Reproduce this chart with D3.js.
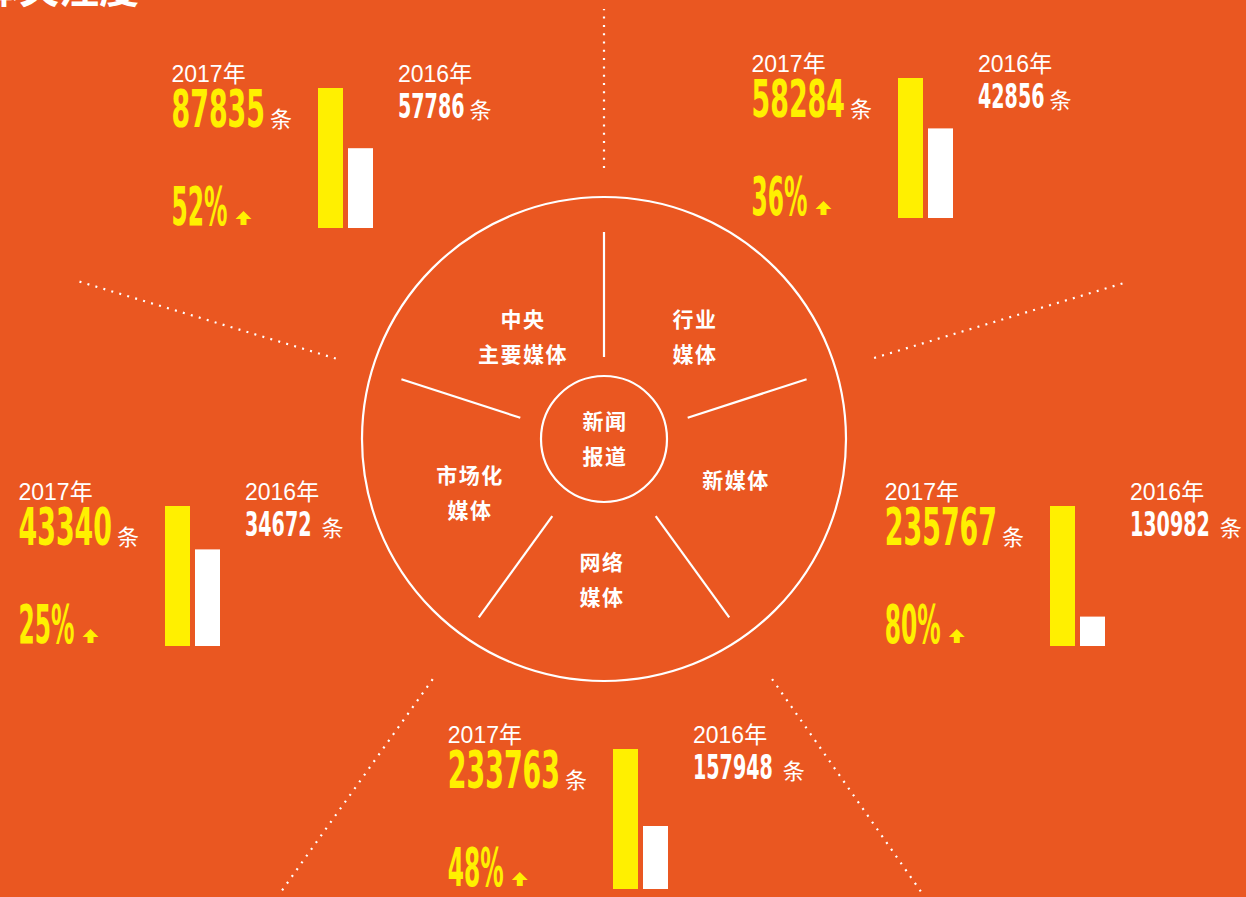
<!DOCTYPE html>
<html>
<head>
<meta charset="utf-8">
<script src="https://cdn.jsdelivr.net/npm/d3@7"></script>
<style>
  html, body { margin: 0; padding: 0; background: #ea5721; }
  svg { display: block; }
</style>
</head>
<body>
<svg id="chart" width="1246" height="897"></svg>
<script>
// ---- data ----------------------------------------------------------------
var groupNames   = ['行业媒体', '新媒体', '网络媒体', '市场化媒体', '中央主要媒体'];
var groupLines   = [['行业', '媒体'], ['新媒体'], ['网络', '媒体'], ['市场化', '媒体'], ['中央', '主要媒体']];
var count2017    = [58284, 235767, 233763, 43340, 87835];
var count2016    = [42856, 130982, 157948, 34672, 57786];
var growthLabels = ['36%', '80%', '48%', '25%', '52%'];
// white bar height as drawn, relative to the 2017 bar (the bars are not to scale)
var bar2016Share = [0.64, 0.21, 0.45, 0.69, 0.57];
var yearLabels   = ['2017年', '2016年'];
var unitLabel    = '条';
var centerLines  = ['新闻', '报道'];
var titleText    = '媒体关注度';

// ---- layout ---------------------------------------------------------------
var svg = d3.select('#chart');
var W = +svg.attr('width'), H = +svg.attr('height');
var cx = 604, cy = 439;
var orange = '#ea5721', yellow = '#fff000', white = '#ffffff';

// bar anchor (left of yellow bar, bottom) for each group
var anchors = [[898, 218], [1050, 646], [613, 889], [165, 646], [318, 228]];
var gap16 = [5, 10, 10, 10, 5];
// centre of each segment label inside the wheel
var labelPos = [[694, 337], [735, 481], [601, 580], [469, 493], [522, 337]];
// dotted rays: angle, inner and outer radius
var dotAngle = [-90, -16.7, 55, 125.5, 196.7];
var dotInner = [271, 282, 293, 295, 280];
var dotOuter = [430, 545, 556, 557, 551];

var numFont = '"Liberation Sans Narrow", "DejaVu Sans Condensed", "Roboto Condensed", sans-serif';
var txtFont = '"Liberation Sans", "Noto Sans CJK SC", sans-serif';
var cjkFont = '"Noto Sans CJK SC", "Noto Sans", sans-serif';

svg.append('rect').attr('width', W).attr('height', H).attr('fill', orange);

// title, cut off by the top edge
svg.append('text')
    .attr('x', 139).attr('y', 3)
    .attr('text-anchor', 'end')
    .attr('font-family', cjkFont).attr('font-weight', 700)
    .attr('font-size', 40).attr('fill', white)
    .text(titleText);

// angles: spokes at pentagon corners
var spokeAngle = d3.scaleLinear().domain([0, 5]).range([-90, 270]);
function polar(angleDeg, r, ox, oy) {
    var a = angleDeg * Math.PI / 180;
    return [ox + r * Math.cos(a), oy + r * Math.sin(a)];
}

// dotted radial lines
svg.append('g').selectAll('line')
    .data(d3.range(5))
    .enter().append('line')
    .each(function(i) {
        var p0 = polar(dotAngle[i], dotInner[i], cx, cy), p1 = polar(dotAngle[i], dotOuter[i], cx, cy);
        d3.select(this).attr('x1', p0[0]).attr('y1', p0[1]).attr('x2', p1[0]).attr('y2', p1[1]);
    })
    .attr('stroke', white)
    .attr('stroke-width', 2.2)
    .attr('stroke-dasharray', '2 6.3');

// central wheel
var wheel = svg.append('g');
wheel.append('circle').attr('cx', cx).attr('cy', cy).attr('r', 242)
    .attr('fill', 'none').attr('stroke', white).attr('stroke-width', 2.2);
wheel.append('circle').attr('cx', cx).attr('cy', cy).attr('r', 63)
    .attr('fill', 'none').attr('stroke', white).attr('stroke-width', 2.2);

wheel.selectAll('.spoke')
    .data(d3.range(5))
    .enter().append('line')
    .attr('class', 'spoke')
    .each(function(i) {
        var p0 = polar(spokeAngle(i), 88, cx, cy + 6), p1 = polar(spokeAngle(i), 213, cx, cy + 6);
        d3.select(this).attr('x1', p0[0]).attr('y1', p0[1]).attr('x2', p1[0]).attr('y2', p1[1]);
    })
    .attr('stroke', white).attr('stroke-width', 2.2);

// segment labels
wheel.selectAll('.seg-label')
    .data(groupLines)
    .enter().append('text')
    .attr('class', 'seg-label')
    .attr('font-family', cjkFont).attr('font-weight', 700)
    .attr('font-size', 21).attr('letter-spacing', 1.5)
    .attr('fill', white).attr('text-anchor', 'middle')
    .each(function(lines, i) {
        var p = labelPos[i];
        var t = d3.select(this);
        lines.forEach(function(l, k) {
            t.append('tspan')
                .attr('x', p[0] + 1)
                .attr('y', p[1] + 7 + (k - (lines.length - 1) / 2) * 35)
                .text(l);
        });
    });

// center label
centerLines.forEach(function(l, k) {
    wheel.append('text')
        .attr('x', cx + 1).attr('y', cy - 10 + k * 35)
        .attr('font-family', cjkFont).attr('font-weight', 700)
        .attr('font-size', 21).attr('letter-spacing', 1.5)
        .attr('fill', white).attr('text-anchor', 'middle')
        .text(l);
});

// ---- the five bar groups --------------------------------------------------
var barH = d3.scaleLinear().domain([0, 1]).range([0, 140]);
var barW = 25;
var digit17 = 18.7, digit16 = 13.3, pctW = 56, unitW = 22;

groupNames.forEach(function(name, i) {
    var bx = anchors[i][0], by = anchors[i][1];
    var g = svg.append('g').attr('class', 'group').attr('data-name', name);

    // bars
    var bars = [{v: 1, c: yellow, x: bx}, {v: bar2016Share[i], c: white, x: bx + 30}];
    g.selectAll('rect')
        .data(bars)
        .enter().append('rect')
        .attr('x', function(d) { return d.x; })
        .attr('y', function(d) { return by - barH(d.v); })
        .attr('width', barW)
        .attr('height', function(d) { return barH(d.v); })
        .attr('fill', function(d) { return d.c; });

    // 2017 block, right-aligned next to the bars
    var s17 = String(count2017[i]);
    var w17 = s17.length * digit17;
    var left17 = bx - 26 - unitW - 5 - w17;

    g.append('text')
        .attr('x', left17).attr('y', by - 146)
        .attr('font-family', txtFont).attr('font-size', 23)
        .attr('fill', white)
        .text(yearLabels[0]);

    g.append('text')
        .attr('x', left17).attr('y', by - 101)
        .attr('font-family', numFont).attr('font-weight', 700)
        .attr('font-size', 51).attr('fill', yellow)
        .attr('textLength', w17).attr('lengthAdjust', 'spacingAndGlyphs')
        .text(s17);

    g.append('text')
        .attr('x', left17 + w17 + 5).attr('y', by - 101)
        .attr('font-family', cjkFont).attr('font-size', 22)
        .attr('fill', white)
        .text(unitLabel);

    g.append('text')
        .attr('x', left17).attr('y', by - 3)
        .attr('font-family', numFont).attr('font-weight', 700)
        .attr('font-size', 53).attr('fill', yellow)
        .attr('textLength', pctW).attr('lengthAdjust', 'spacingAndGlyphs')
        .text(growthLabels[i]);

    // up arrow
    var ax = left17 + pctW + 8, ab = by - 3;
    g.append('path')
        .attr('d', 'M' + (ax + 8) + ',' + (ab - 14) +
                   'L' + (ax + 16) + ',' + (ab - 6) +
                   'L' + (ax + 11) + ',' + (ab - 6) +
                   'L' + (ax + 11) + ',' + ab +
                   'L' + (ax + 5) + ',' + ab +
                   'L' + (ax + 5) + ',' + (ab - 6) +
                   'L' + ax + ',' + (ab - 6) + 'Z')
        .attr('fill', yellow);

    // 2016 block, to the right of the bars
    var s16 = String(count2016[i]);
    var w16 = s16.length * digit16;
    var left16 = bx + 80;

    g.append('text')
        .attr('x', left16).attr('y', by - 146)
        .attr('font-family', txtFont).attr('font-size', 23)
        .attr('fill', white)
        .text(yearLabels[1]);

    g.append('text')
        .attr('x', left16).attr('y', by - 110)
        .attr('font-family', numFont).attr('font-weight', 700)
        .attr('font-size', 34).attr('fill', white)
        .attr('textLength', w16).attr('lengthAdjust', 'spacingAndGlyphs')
        .text(s16);

    g.append('text')
        .attr('x', left16 + w16 + gap16[i]).attr('y', by - 110)
        .attr('font-family', cjkFont).attr('font-size', 22)
        .attr('fill', white)
        .text(unitLabel);
});
</script>
</body>
</html>
